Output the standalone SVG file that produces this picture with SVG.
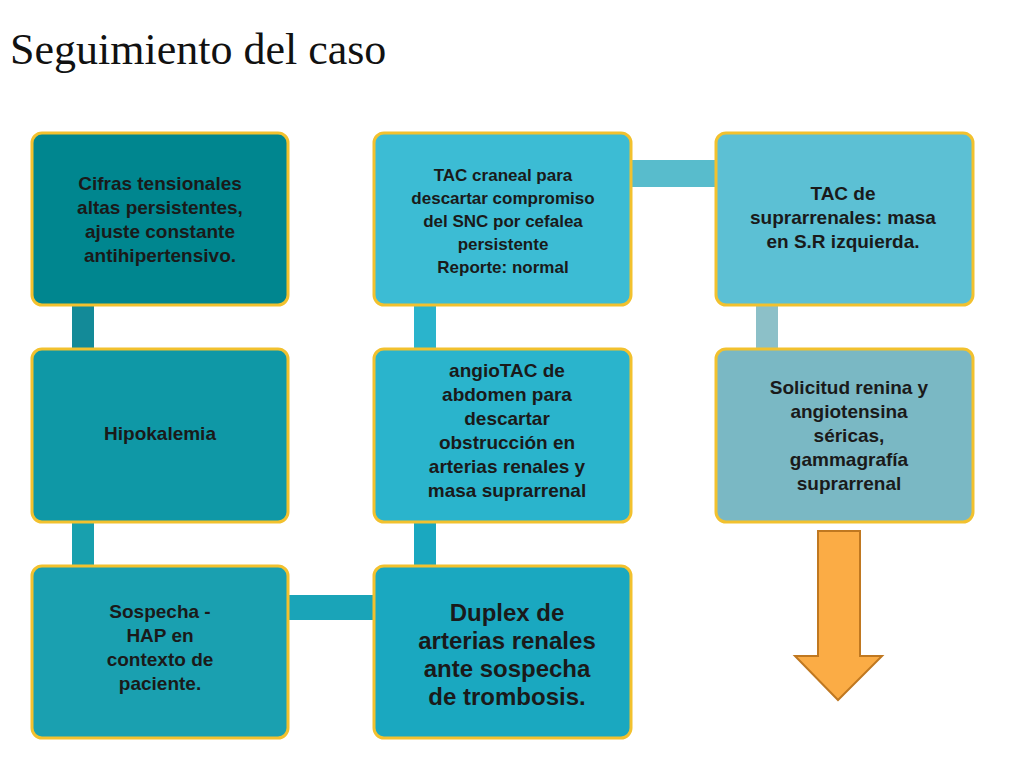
<svg xmlns="http://www.w3.org/2000/svg" width="1024" height="768" viewBox="0 0 1024 768">
<style>
.b{stroke:#f2c12e;stroke-width:3}
.t{font-family:"Liberation Sans",Arial,sans-serif;font-weight:bold;font-size:19px;fill:#1a1a1a;text-anchor:middle}
.s{font-size:17px}
.l{font-size:24px}
</style>
<rect width="1024" height="768" fill="#fff"/>
<text x="10" y="64" font-family="Liberation Serif,serif" font-size="44" fill="#111">Seguimiento del caso</text>
<g id="connectors">
<rect x="72" y="305" width="22" height="44" fill="#138a98"/>
<rect x="72" y="522" width="22" height="44" fill="#18a0ae"/>
<rect x="288" y="595" width="86" height="25" fill="#1aa4b8"/>
<rect x="414" y="305" width="22" height="44" fill="#2ab4cc"/>
<rect x="414" y="522" width="22" height="44" fill="#1aa8c0"/>
<rect x="631" y="160" width="85" height="27" fill="#58bccc"/>
<rect x="756" y="305" width="22" height="44" fill="#8cc0c8"/>
</g>
<g id="n1"><rect class="b" x="32" y="133" width="256" height="172" rx="10" fill="#00868f"/>
<text class="t"><tspan x="160" y="190">Cifras tensionales</tspan><tspan x="160" y="214">altas persistentes,</tspan><tspan x="160" y="238">ajuste constante</tspan><tspan x="160" y="262">antihipertensivo.</tspan></text></g>
<g id="n2"><rect class="b" x="32" y="349" width="256" height="173" rx="10" fill="#0f98a6"/>
<text class="t" x="160" y="440">Hipokalemia</text></g>
<g id="n3"><rect class="b" x="32" y="566" width="256" height="172" rx="10" fill="#1aa0b0"/>
<text class="t"><tspan x="160" y="618">Sospecha -</tspan><tspan x="160" y="642">HAP en</tspan><tspan x="160" y="666">contexto de</tspan><tspan x="160" y="690">paciente.</tspan></text></g>
<g id="n4"><rect class="b" x="374" y="566" width="257" height="172" rx="10" fill="#1aa8c0"/>
<text class="t l"><tspan x="507" y="621">Duplex de</tspan><tspan x="507" y="649">arterias renales</tspan><tspan x="507" y="677">ante sospecha</tspan><tspan x="507" y="705">de trombosis.</tspan></text></g>
<g id="n5"><rect class="b" x="374" y="349" width="257" height="173" rx="10" fill="#2ab4cc"/>
<text class="t"><tspan x="507" y="377">angioTAC de</tspan><tspan x="507" y="401">abdomen para</tspan><tspan x="507" y="425">descartar</tspan><tspan x="507" y="449">obstrucción en</tspan><tspan x="507" y="473">arterias renales y</tspan><tspan x="507" y="497">masa suprarrenal</tspan></text></g>
<g id="n6"><rect class="b" x="374" y="133" width="257" height="172" rx="10" fill="#3cbcd4"/>
<text class="t s"><tspan x="503" y="181">TAC craneal para</tspan><tspan x="503" y="204">descartar compromiso</tspan><tspan x="503" y="227">del SNC por cefalea</tspan><tspan x="503" y="250">persistente</tspan><tspan x="503" y="273">Reporte: normal</tspan></text></g>
<g id="n7"><rect class="b" x="716" y="133" width="257" height="172" rx="10" fill="#5cc0d4"/>
<text class="t"><tspan x="843" y="200">TAC de</tspan><tspan x="843" y="224">suprarrenales: masa</tspan><tspan x="843" y="248">en S.R izquierda.</tspan></text></g>
<g id="n8"><rect class="b" x="716" y="349" width="257" height="173" rx="10" fill="#7ab8c4"/>
<text class="t"><tspan x="849" y="394">Solicitud renina y</tspan><tspan x="849" y="418">angiotensina</tspan><tspan x="849" y="442">séricas,</tspan><tspan x="849" y="466">gammagrafía</tspan><tspan x="849" y="490">suprarrenal</tspan></text></g>
<g id="arrow"><path d="M818 531H860V656H882L838 700L795 656H818Z" fill="#fbac45" stroke="#c07820" stroke-width="2"/></g>
</svg>
